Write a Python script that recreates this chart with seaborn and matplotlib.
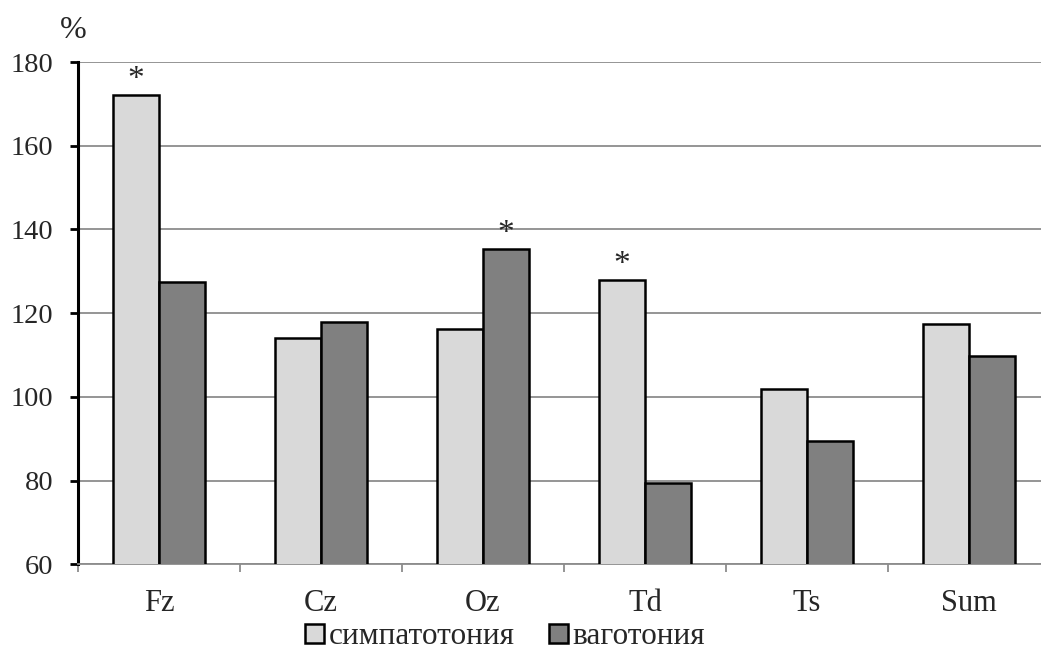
import pandas as pd
import matplotlib
matplotlib.use("Agg")
import matplotlib.pyplot as plt
import seaborn as sns
from matplotlib.patches import Patch

# Data
leads = ['Fz', 'Cz', 'Oz', 'Td', 'Ts', 'Sum']
symp = [172.0, 114.1, 116.1, 127.9, 101.8, 117.3]
vago = [127.5, 117.9, 135.4, 79.4, 89.5, 109.8]
groups = ['симпатотония', 'ваготония']
colors = ['#d9d9d9', '#808080']
# significant differences marked with an asterisk: (lead index, group index)
stars = [(0, 0), (2, 1), (3, 0)]

df = pd.DataFrame({
    'lead': leads * 2,
    'value': symp + vago,
    'group': [groups[0]] * len(leads) + [groups[1]] * len(leads),
})

sns.set_style('white')
plt.rcParams['font.family'] = ['Liberation Serif', 'DejaVu Serif']

fig = plt.figure(figsize=(10.41, 6.62), dpi=100)
ax = fig.add_axes([78 / 1041, 97.7 / 662, 972 / 1041, 502.3 / 662])

sns.barplot(data=df, x='lead', y='value', hue='group', palette=colors,
            width=0.57, edgecolor='black', linewidth=1.8, ax=ax,
            legend=False, zorder=3)

ax.set_ylim(60, 180)
ax.set_xlim(-0.5, len(leads) - 0.5)
ax.set_yticks(range(60, 181, 20))
ax.yaxis.grid(True, color='#8c8c8c', linewidth=1.3, zorder=0)
ax.set_axisbelow(True)
ax.set_xlabel('')
ax.set_ylabel('')

for s in ['top', 'right']:
    ax.spines[s].set_visible(False)
ax.spines['left'].set_color('black')
ax.spines['left'].set_linewidth(2.2)
ax.spines['bottom'].set_color('#8c8c8c')
ax.spines['bottom'].set_linewidth(1.3)

ax.tick_params(axis='y', direction='out', length=6, width=2, color='black',
               labelsize=20.5, pad=12, left=True)
ax.tick_params(axis='x', which='major', length=0, labelsize=22, pad=18)
ax.set_xticks([i + 0.5 for i in range(-1, len(leads))], minor=True)
ax.tick_params(axis='x', which='minor', direction='out', length=6, width=1.3,
               color='#8c8c8c', bottom=True)

# asterisks above significant bars
for (i, g) in stars:
    val = (symp, vago)[g][i]
    xpos = i + (-0.1425 if g == 0 else 0.1425)
    ax.annotate('*', xy=(xpos, val), xytext=(0, 0), textcoords='offset points',
                ha='center', va='bottom', fontsize=24)

fig.text(73 / 1041, 1 - 30 / 662, '%', ha='center', va='center', fontsize=23)

handles = [Patch(facecolor=c, edgecolor='black', linewidth=1.8) for c in colors]
fig.legend(handles, groups, loc='center', bbox_to_anchor=(505 / 1041, 1 - 637 / 662),
           ncol=2, frameon=False, fontsize=22.5, handlelength=0.6, handleheight=0.6,
           handletextpad=0.15, columnspacing=1.1, borderaxespad=0)

fig.savefig('out.png', dpi=100)
